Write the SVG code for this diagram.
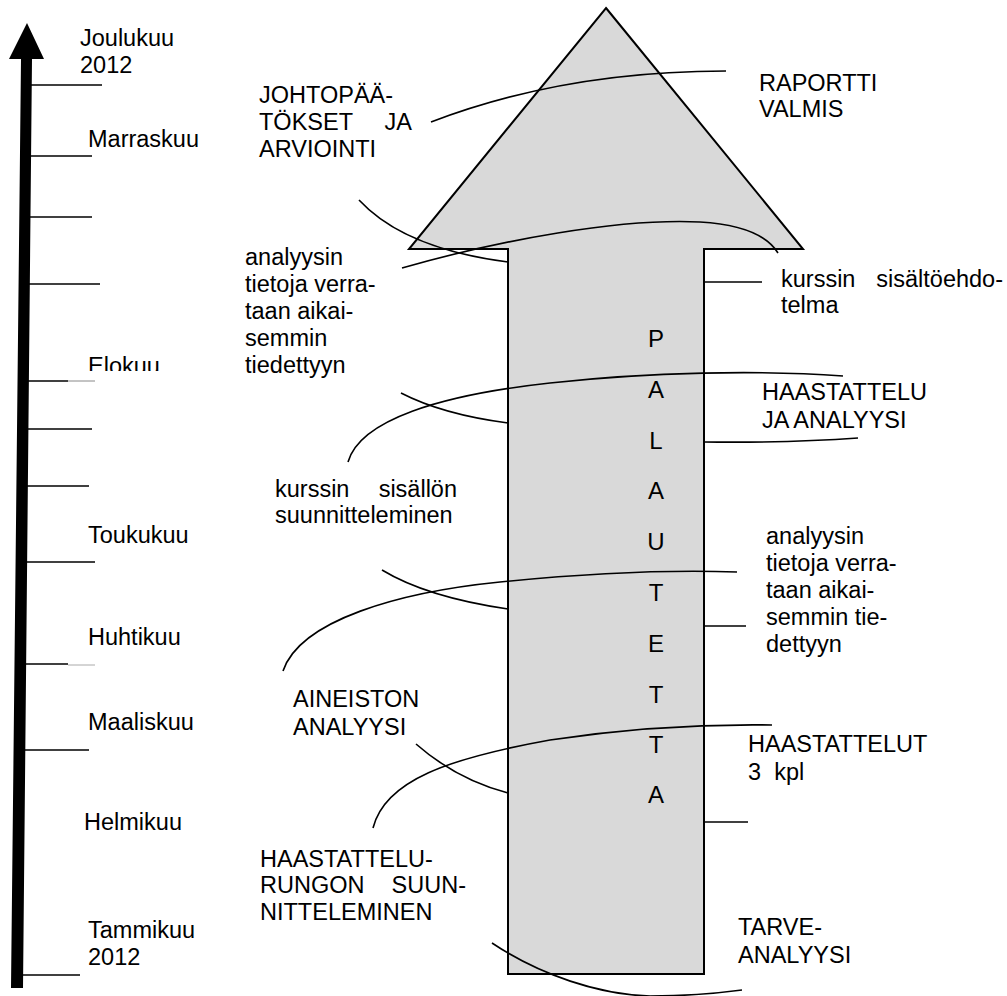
<svg xmlns="http://www.w3.org/2000/svg" width="1007" height="996" viewBox="0 0 1007 996">
<style>
text{font-family:"Liberation Sans",Arial,sans-serif;font-size:23.5px;fill:#000}
.big{font-size:24px;text-anchor:middle}
.pre{white-space:pre}
.tick{stroke:#000;stroke-width:1.6;fill:none}
.c{stroke:#000;stroke-width:1.6;fill:none}
</style>
<defs>
<clipPath id="eloClip"><rect x="80" y="340" width="120" height="31"/></clipPath>
</defs>
<rect width="1007" height="996" fill="#fff"/>
<g id="timeline">
<polygon points="11,988 23,988 32,59 44,59 27,23 9,59 21,59" fill="#000"/>
<line class="tick" x1="31" y1="85" x2="102" y2="85"/>
<line class="tick" x1="30" y1="156" x2="92" y2="156"/>
<line class="tick" x1="30" y1="217" x2="92" y2="217"/>
<line class="tick" x1="29" y1="284" x2="100" y2="284"/>
<line class="tick" x1="28" y1="381" x2="68" y2="381"/>
<line x1="68" y1="381" x2="95" y2="381" stroke="#888" stroke-width="1"/>
<line class="tick" x1="28" y1="429" x2="92" y2="429"/>
<line class="tick" x1="27" y1="486" x2="89" y2="486"/>
<line class="tick" x1="26" y1="562" x2="95" y2="562"/>
<line class="tick" x1="25" y1="664" x2="68" y2="664"/>
<line x1="68" y1="665" x2="95" y2="665" stroke="#aaa" stroke-width="1"/>
<line class="tick" x1="24" y1="750" x2="89" y2="750"/>
<line class="tick" x1="22" y1="975" x2="80" y2="975"/>
<text x="80" y="46">Joulukuu</text>
<text x="80" y="73">2012</text>
<text x="88" y="147">Marraskuu</text>
<text x="88" y="374" clip-path="url(#eloClip)">Elokuu</text>
<text x="88" y="543">Toukukuu</text>
<text x="88" y="645">Huhtikuu</text>
<text x="88" y="730">Maaliskuu</text>
<text x="84" y="830">Helmikuu</text>
<text x="88" y="938">Tammikuu</text>
<text x="88" y="965">2012</text>
</g>
<g id="big-arrow">
<polygon points="606,8 803,249 704,249 704,974 508,974 508,249 409,249" fill="#d9d9d9" stroke="#000" stroke-width="2"/>
<text class="big" x="656" y="347">P</text>
<text class="big" x="656" y="398">A</text>
<text class="big" x="656" y="449">L</text>
<text class="big" x="656" y="499">A</text>
<text class="big" x="656" y="550">U</text>
<text class="big" x="656" y="601">T</text>
<text class="big" x="656" y="652">E</text>
<text class="big" x="656" y="703">T</text>
<text class="big" x="656" y="753">T</text>
<text class="big" x="656" y="803">A</text>
</g>
<g id="connectors">
<path class="c" d="M431,122 C 520,88 620,71 726,71"/>
<path class="c" d="M359,200 C 385,228 430,252 508,262"/>
<path class="c" d="M402,268 C 500,240 620,218 700,222 C 750,225 770,240 778,253"/>
<line class="c" x1="704" y1="282" x2="762" y2="282"/>
<path class="c" d="M401,393 C 430,408 470,418 508,423"/>
<path class="c" d="M348,462 C 360,420 440,395 550,383 C 650,372 760,370 843,376"/>
<path class="c" d="M704,442 Q 790,443 858,438"/>
<path class="c" d="M382,570 C 415,590 460,602 508,609"/>
<path class="c" d="M283,671 C 300,620 400,592 500,582 C 600,572 680,570 737,572"/>
<line class="c" x1="704" y1="626" x2="746" y2="626"/>
<path class="c" d="M416,744 C 440,765 470,783 508,793"/>
<path class="c" d="M373,828 C 385,780 450,758 550,740 C 630,728 700,724 772,725"/>
<line class="c" x1="704" y1="822" x2="748" y2="822"/>
<path class="c" d="M492,943 C 540,975 600,995 650,996 C 690,996 720,993 742,990"/>
</g>
<g id="label-johtopaatokset">
<text x="259" y="103">JOHTOPÄÄ-</text>
<text x="259" y="130">TÖKSET</text>
<text x="412" y="130" text-anchor="end">JA</text>
<text x="259" y="157">ARVIOINTI</text>
</g>
<g id="label-raportti">
<text x="759" y="91">RAPORTTI</text>
<text x="759" y="117">VALMIS</text>
</g>
<g id="label-analyysin-left">
<text x="245" y="265">analyysin</text>
<text x="245" y="292">tietoja verra-</text>
<text x="245" y="319">taan aikai-</text>
<text x="245" y="346">semmin</text>
<text x="245" y="373">tiedettyyn</text>
</g>
<g id="label-kurssin-ehdotelma">
<text x="781" y="287">kurssin</text>
<text x="1003" y="287" text-anchor="end">sisältöehdo-</text>
<text x="781" y="313">telma</text>
</g>
<g id="label-haastattelu-analyysi">
<text x="762" y="400">HAASTATTELU</text>
<text x="762" y="428">JA ANALYYSI</text>
</g>
<g id="label-kurssin-suunnittelu">
<text x="275" y="497">kurssin</text>
<text x="457" y="497" text-anchor="end">sisällön</text>
<text x="275" y="523">suunnitteleminen</text>
</g>
<g id="label-analyysin-right">
<text x="766" y="544">analyysin</text>
<text x="766" y="571">tietoja verra-</text>
<text x="766" y="598">taan aikai-</text>
<text x="766" y="625">semmin tie-</text>
<text x="766" y="652">dettyyn</text>
</g>
<g id="label-aineiston">
<text x="293" y="707">AINEISTON</text>
<text x="293" y="735">ANALYYSI</text>
</g>
<g id="label-haastattelut">
<text x="748" y="752">HAASTATTELUT</text>
<text class="pre" x="748" y="780">3  kpl</text>
</g>
<g id="label-haastattelurunko">
<text x="260" y="867">HAASTATTELU-</text>
<text x="260" y="893">RUNGON</text>
<text x="466" y="893" text-anchor="end">SUUN-</text>
<text x="260" y="920">NITTELEMINEN</text>
</g>
<g id="label-tarve">
<text x="738" y="935">TARVE-</text>
<text x="738" y="963">ANALYYSI</text>
</g>
</svg>
